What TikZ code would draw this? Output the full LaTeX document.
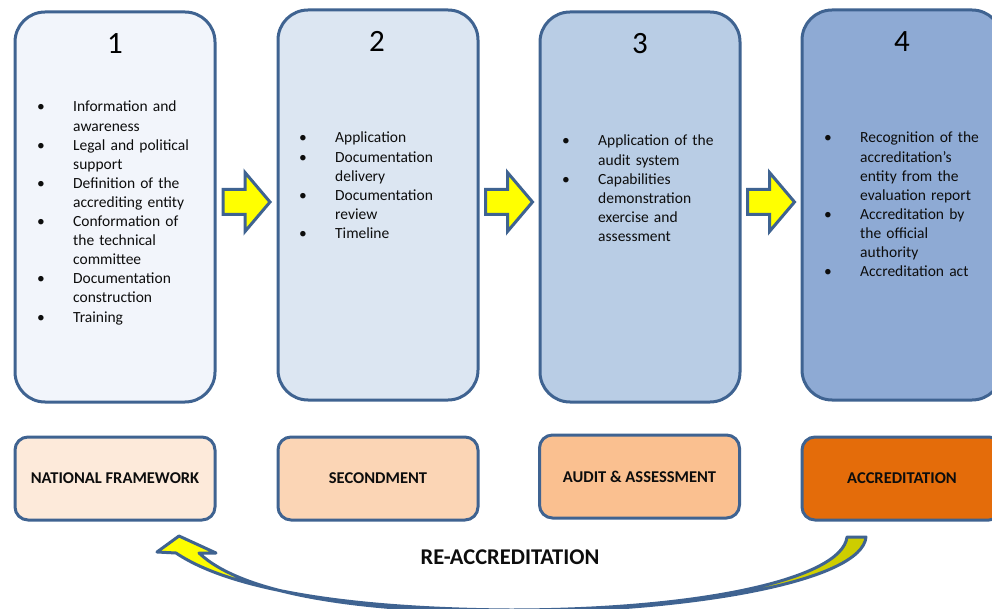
\documentclass[tikz,border=0pt]{standalone}
\usepackage{fontspec}
\setmainfont{Carlito}
\usetikzlibrary{calc}
\definecolor{bord}{HTML}{3F6391}
\definecolor{fillA}{HTML}{F2F5FB}
\definecolor{fillB}{HTML}{DCE6F2}
\definecolor{fillC}{HTML}{B9CDE5}
\definecolor{fillD}{HTML}{8EAAD4}
\definecolor{orA}{HTML}{FDEADA}
\definecolor{orB}{HTML}{FBD5B5}
\definecolor{orC}{HTML}{FAC090}
\definecolor{orD}{HTML}{E46C0A}
\definecolor{yel}{HTML}{FFFF00}
\definecolor{olive}{HTML}{CCCC00}
\definecolor{txt}{HTML}{0D0D0D}
\newcommand{\blt}{\makebox[36pt][l]{\textbullet}}
\newcommand{\cnt}{\hspace*{36pt}}
\tikzset{
  topbox/.style={draw=bord, line width=3pt, rounded corners=30pt, minimum width=200pt, minimum height=390pt, inner sep=0pt},
  botbox/.style={draw=bord, line width=3pt, rounded corners=13pt, minimum width=200pt, minimum height=83pt, inner sep=0pt, font=\fontsize{16.5}{18}\selectfont\bfseries, text=txt},
  num/.style={anchor=base, inner sep=0pt, font=\fontsize{31}{31}\selectfont, text=black},
  lst/.style={anchor=base west, inner sep=0pt, text width=175pt, align=left, font=\fontsize{15.5}{19.1}\selectfont, text=txt},
  yarr/.style={draw=bord, line width=3pt, fill=yel, line join=miter},
}
\begin{document}
\begin{tikzpicture}[x=1pt,y=-1pt]
\useasboundingbox (0,0) rectangle (992,609);
% top boxes
\node[topbox, fill=fillA] (t1) at (115,207) {};
\node[topbox, fill=fillB] (t2) at (378,205) {};
\node[topbox, fill=fillC] (t3) at (640,207) {};
\node[topbox, fill=fillD] (t4) at (902,205) {};
% numbers
\node[num] (n1) at (115,54) {1};
\node[num] (n2) at (377,52) {2};
\node[num] (n3) at (640,54) {3};
\node[num] (n4) at (902,52) {4};
% lists
\node[lst] (l1) at (37,112) {\blt Information and\\ \cnt awareness\\ \blt Legal and political\\ \cnt support\\ \blt Definition of the\\ \cnt accrediting entity\\ \blt Conformation of\\ \cnt the technical\\ \cnt committee\\ \blt Documentation\\ \cnt construction\\ \blt Training};
\node[lst] (l2) at (299,143) {\blt Application\\ \blt Documentation\\ \cnt delivery\\ \blt Documentation\\ \cnt review\\ \blt Timeline};
\node[lst] (l3) at (562,146) {\blt Application of the\\ \cnt audit system\\ \blt Capabilities\\ \cnt demonstration\\ \cnt exercise and\\ \cnt assessment};
\node[lst] (l4) at (824,143) {\blt Recognition of the\\ \cnt accreditation’s\\ \cnt entity from the\\ \cnt evaluation report\\ \blt Accreditation by\\ \cnt the official\\ \cnt authority\\ \blt Accreditation act};
% yellow arrows between top boxes
\foreach \a/\b in {t1/t2, t2/t3, t3/t4}{
  \path (\a.east) -- (\b.west) coordinate[midway] (m);
  \draw[yarr] ($(m |- 0,202)+(-23.5,-12.5)$) -- ++(22,0) -- ++(0,-17) -- ++(25,29.5) -- ++(-25,29.5) -- ++(0,-17) -- ++(-22,0) -- cycle;
}
% bottom boxes
\node[botbox, fill=orA] (b1) at (115,478.5) {NATIONAL FRAMEWORK};
\node[botbox, fill=orB] (b2) at (378,478.5) {SECONDMENT};
\node[botbox, fill=orC] (b3) at (639.5,476.5) {AUDIT \& ASSESSMENT};
\node[botbox, fill=orD] (b4) at (902,478.5) {ACCREDITATION};
% re-accreditation label
\node[inner sep=0pt, font=\fontsize{22.5}{23}\selectfont\bfseries, text=txt] (re) at (510,557) {RE-ACCREDITATION};
% curved return arrow
\draw[draw=bord, line width=3pt, line join=round, left color=yel, right color=olive]
  (847,537) -- (866,537)
  .. controls (862,580) and (700,611) .. (510,612)
  .. controls (350,612) and (240,592) .. (199,553)
  -- (216,553) -- (179,536) -- (157,552) -- (176,553)
  .. controls (234,592) and (360,609) .. (510,610)
  .. controls (700,610) and (842,579) .. (847,537) -- cycle;
\end{tikzpicture}
\end{document}
